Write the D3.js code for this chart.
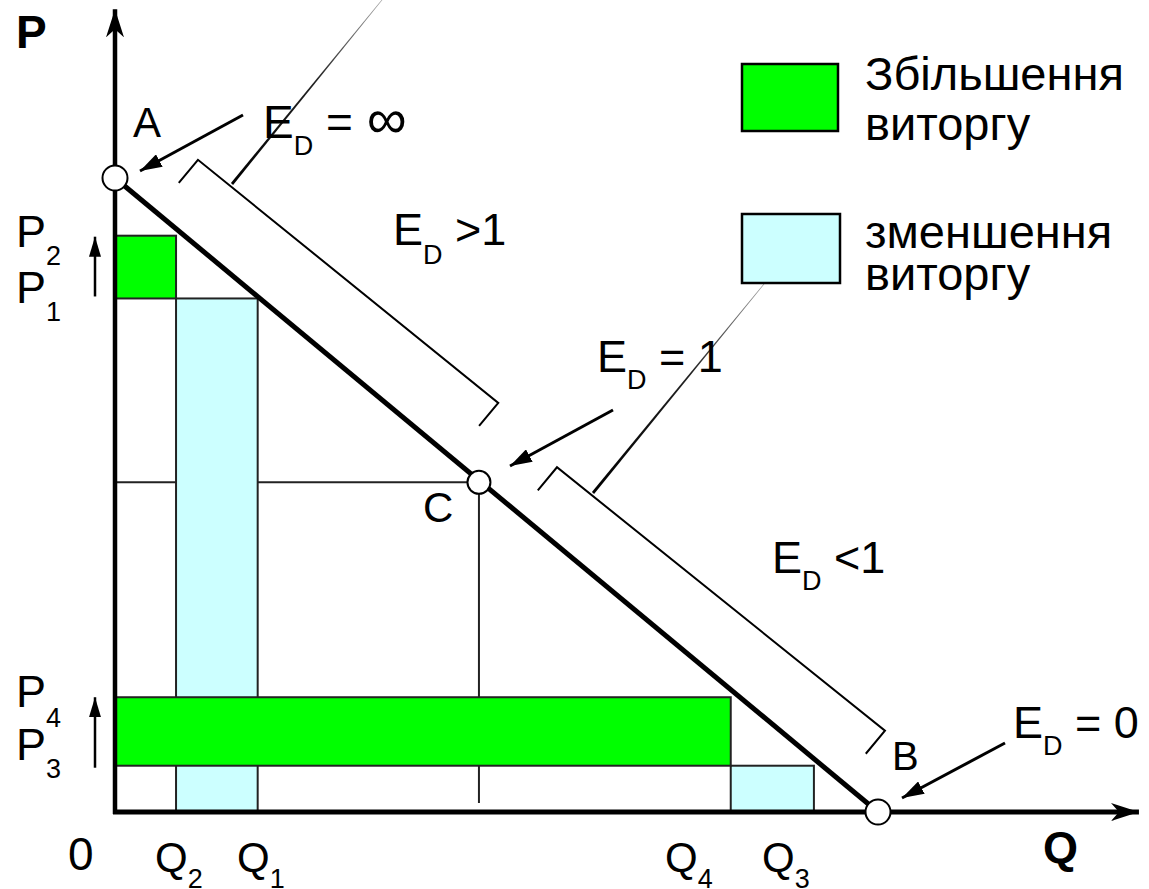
<!DOCTYPE html>
<html><head><meta charset="utf-8">
<script src="https://cdn.jsdelivr.net/npm/d3@7"></script>
<style>
body{margin:0;background:#fff}
text{font-family:"Liberation Sans",Arial,Helvetica,sans-serif;fill:#000}
</style>
</head><body>
<svg id="chart" width="1149" height="889"></svg>
<script>
// ---------- data ----------
const demandQ = [0, 10];          // demand line from A (Q=0) to B (Q=10)
const demandP = [10, 0];
const pointNames = ["A", "C", "B"];
const pointQ = [0, 4.77, 10];
const pointP = [10, 5.2, 0];
const qNames = ["Q2", "Q1", "Q4", "Q3"];
const qValues = [0.80, 1.87, 8.07, 9.16];
const pNames = ["P2", "P1", "P4", "P3"];
const pValues = [9.09, 8.10, 1.81, 0.73];
// revenue change rectangles: [q0, q1, p0, p1]
const gainRects = [[0, 0.80, 8.10, 9.09], [0, 8.07, 0.73, 1.81]];
const lossRects = [[0.80, 1.87, 0, 8.10], [8.07, 9.16, 0, 0.73]];
// elasticity segments (bracket ends along demand, Q units)
const bracketQ = [[0.526, 4.42], [5.29, 9.53]];
const legendLabels = [["Збільшення", "виторгу"], ["зменшення", "виторгу"]];
const legendColors = ["#00ff00", "#ccffff"];

// ---------- setup ----------
const svg = d3.select("#chart");
svg.append("rect").attr("width", 1149).attr("height", 889).attr("fill", "#fff");
const x = d3.scaleLinear().domain([0, 10]).range([115, 878]);
const y = d3.scaleLinear().domain([0, 10]).range([812, 178]);
const defs = svg.append("defs");

function addArrowMarker(id, len, wid, notch) {
  defs.append("marker").attr("id", id)
    .attr("markerUnits", "userSpaceOnUse")
    .attr("viewBox", `0 ${-wid / 2} ${len} ${wid}`)
    .attr("refX", len).attr("refY", 0)
    .attr("markerWidth", len).attr("markerHeight", wid)
    .attr("orient", "auto")
    .append("path")
    .attr("d", `M0,${-wid / 2}L${len},0L0,${wid / 2}L${notch},0Z`)
    .attr("fill", "#000");
}
addArrowMarker("axisHead", 28, 18, 8);
addArrowMarker("annHead", 22, 14, 0);
addArrowMarker("smallHead", 20, 12, 0);

// reference lines from C
const cQ = pointQ[1], cP = pointP[1];
svg.append("line").attr("x1", x(0)).attr("x2", x(cQ)).attr("y1", y(cP)).attr("y2", y(cP))
  .attr("stroke", "#222").attr("stroke-width", 2);
svg.append("line").attr("x1", x(cQ)).attr("x2", x(cQ)).attr("y1", y(cP)).attr("y2", y(0.14))
  .attr("stroke", "#222").attr("stroke-width", 2);

// rectangles
function drawRects(data, color) {
  svg.append("g").selectAll("rect").data(data).join("rect")
    .attr("x", d => x(d[0])).attr("width", d => x(d[1]) - x(d[0]))
    .attr("y", d => y(d[3])).attr("height", d => y(d[2]) - y(d[3]))
    .attr("fill", color).attr("stroke", "#222").attr("stroke-width", 2);
}
drawRects(lossRects, "#ccffff");
drawRects(gainRects, "#00ff00");

// demand line
svg.append("line")
  .attr("x1", x(demandQ[0])).attr("y1", y(demandP[0]))
  .attr("x2", x(demandQ[1])).attr("y2", y(demandP[1]))
  .attr("stroke", "#000").attr("stroke-width", 5);

// axes
svg.append("line").attr("x1", x(0)).attr("x2", x(0)).attr("y1", y(0) + 2).attr("y2", y(12.66))
  .attr("stroke", "#000").attr("stroke-width", 4.5).attr("marker-end", "url(#axisHead)");
svg.append("line").attr("x1", x(0) - 2).attr("x2", x(13.42)).attr("y1", y(0)).attr("y2", y(0))
  .attr("stroke", "#000").attr("stroke-width", 5).attr("marker-end", "url(#axisHead)");

// points
const pts = pointNames.map((n, i) => ({ n, q: pointQ[i], p: pointP[i] }));
svg.append("g").selectAll("circle").data(pts).join("circle")
  .attr("cx", d => x(d.q)).attr("cy", d => y(d.p)).attr("r", d => d.n === "C" ? 11.5 : 12.5)
  .attr("fill", "#fff").attr("stroke", "#000").attr("stroke-width", 2);

// brackets parallel to demand line
const dx = x(10) - x(0), dy = y(0) - y(10);
const L = Math.hypot(dx, dy);
const nx = dy / L, ny = -dx / L; // perpendicular toward upper right
const bracketOff = [[67, 72], [60, 67]];
bracketQ.forEach((b, i) => {
  const pts = b.map((q, j) => {
    const fx = x(q), fy = y(10 - q), off = bracketOff[i][j];
    return { cx: fx + off * nx, cy: fy + off * ny, tx: fx + (off - 30) * nx, ty: fy + (off - 30) * ny };
  });
  svg.append("path")
    .attr("d", `M${pts[0].tx},${pts[0].ty}L${pts[0].cx},${pts[0].cy}L${pts[1].cx},${pts[1].cy}L${pts[1].tx},${pts[1].ty}`)
    .attr("fill", "none").attr("stroke", "#000").attr("stroke-width", 2);
});

// tapered leader lines
const leaders = [[[232, 184], [386, -5]], [[593, 493], [773, 273]]];
leaders.forEach((l, i) => {
  const [a, b] = l;
  const g = defs.append("linearGradient").attr("id", "lg" + i).attr("gradientUnits", "userSpaceOnUse")
    .attr("x1", a[0]).attr("y1", a[1]).attr("x2", b[0]).attr("y2", b[1]);
  g.append("stop").attr("offset", 0).attr("stop-color", "#000");
  g.append("stop").attr("offset", 0.55).attr("stop-color", "#222");
  g.append("stop").attr("offset", 1).attr("stop-color", "#aaa");
  const len = Math.hypot(b[0] - a[0], b[1] - a[1]);
  const px = -(b[1] - a[1]) / len, py = (b[0] - a[0]) / len;
  const w0 = 1.4, w1 = 0.3;
  svg.append("path")
    .attr("d", `M${a[0] + px * w0},${a[1] + py * w0}L${b[0] + px * w1},${b[1] + py * w1}L${b[0] - px * w1},${b[1] - py * w1}L${a[0] - px * w0},${a[1] - py * w0}Z`)
    .attr("fill", `url(#lg${i})`);
});

// pointer arrows
const arrows = [[[243, 115], [140, 171]], [[613, 410], [510, 466]], [[1005, 743], [902, 798]]];
arrows.forEach(([a, b]) => {
  svg.append("line").attr("x1", a[0]).attr("y1", a[1]).attr("x2", b[0]).attr("y2", b[1])
    .attr("stroke", "#000").attr("stroke-width", 3).attr("marker-end", "url(#annHead)");
});
// small upward arrows near price labels
[[y(pValues[1]) - 2, y(pValues[0]) + 1], [y(pValues[3]) + 2, y(pValues[2]) + 0]].forEach(([a, b]) => {
  svg.append("line").attr("x1", 95).attr("x2", 95).attr("y1", a).attr("y2", b)
    .attr("stroke", "#000").attr("stroke-width", 2.5).attr("marker-end", "url(#smallHead)");
});

// ---------- text ----------
function label(xp, yp, main, sub, rest, size, subSize, subDy, bold) {
  const t = svg.append("text").attr("x", xp).attr("y", yp).attr("font-size", size)
    .attr("font-weight", bold ? "bold" : "normal");
  t.append("tspan").text(main);
  if (sub) t.append("tspan").attr("font-size", subSize).attr("dy", subDy).text(sub);
  if (rest) t.append("tspan").attr("font-size", size).attr("dy", -subDy).text(rest);
  return t;
}
label(16, 48, "P", null, null, 46, 0, 0, true);
label(1043, 863, "Q", null, null, 45, 0, 0, true);
label(133, 137, "A", null, null, 42);
label(423, 522, "C", null, null, 42);
label(892, 770, "B", null, null, 40);
label(68, 870, "0", null, null, 46);

const inf = label(263, 138, "E", "D", " =", 46, 27, 17);
inf.append("tspan").attr("font-size", 56).attr("dx", 14).text("∞");
label(393, 245, "E", "D", " >1", 45, 27, 19);
label(597, 372, "E", "D", " = 1", 45, 27, 17);
label(772, 573, "E", "D", " <1", 45, 27, 17);
label(1013, 738, "E", "D", " = 0", 45, 27, 17);

// price labels
const pLabelY = [247, 303, 707, 760];
const pSubDy = [18, 18, 20, 18];
pNames.forEach((n, i) => label(16, pLabelY[i], "P", n.slice(1), null, 45, 27, pSubDy[i]));
// quantity labels
const qLabelX = [155, 237, 665, 762];
qNames.forEach((n, i) => label(qLabelX[i], 872, "Q", n.slice(1), null, 42, 27, 16));

// legend
const legendY = [64, 214];
const legendH = [67, 69];
const legendW = [96, 98];
legendColors.forEach((c, i) => {
  svg.append("rect").attr("x", 742).attr("y", legendY[i]).attr("width", legendW[i]).attr("height", legendH[i])
    .attr("fill", c).attr("stroke", "#000").attr("stroke-width", 2.5);
});
const legendTextY = [[90, 140], [248, 290]];
legendLabels.forEach((ls, i) => {
  ls.forEach((s, j) => {
    svg.append("text").attr("x", 865).attr("y", legendTextY[i][j]).attr("font-size", 47).text(s);
  });
});
</script>
</body></html>
